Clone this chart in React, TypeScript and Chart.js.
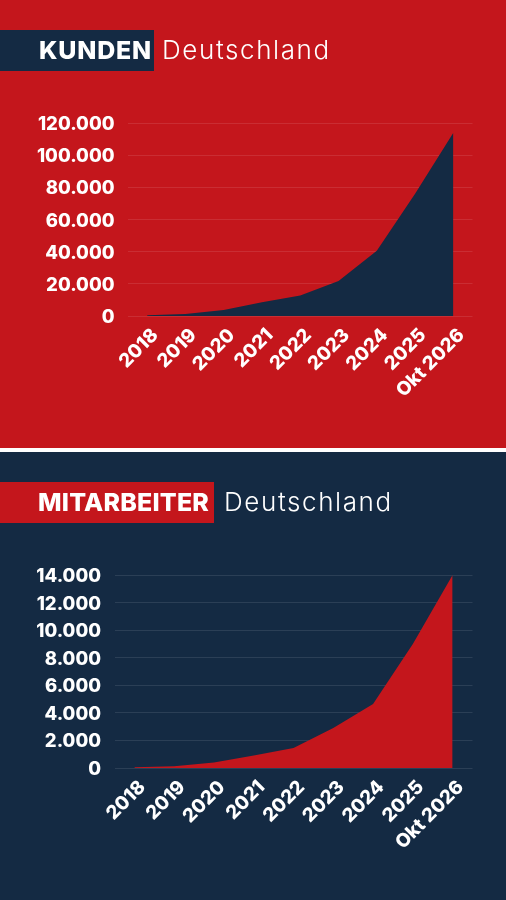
import { useEffect, useRef } from 'react';
import { Chart, registerables } from 'chart.js';

Chart.register(...registerables);

const RED = '#c4161c';
const NAVY = '#142a43';

const years = ['2018', '2019', '2020', '2021', '2022', '2023', '2024', '2025', 'Okt 2026'];
const kunden = [500, 1300, 3800, 8500, 12800, 21800, 40500, 76000, 114000];
const mitarbeiter = [60, 130, 400, 900, 1450, 2900, 4650, 9000, 14000];

const FONT = 'Inter, sans-serif';

// 120000 -> 120.000
const formatTick = (v: number | string) => String(v).replace(/\B(?=(\d{3})+$)/g, '.');

type PanelProps = {
  word: string;
  wordX: number;
  wordSpacing: number;
  boxWidth: number;
  subX: number;
  bg: string;
  accent: string;
  values: number[];
  max: number;
  step: number;
  axisWidth: number;
  grid: string;
};

function Panel({ word, wordX, wordSpacing, boxWidth, subX, bg, accent, values, max, step, axisWidth, grid }: PanelProps) {
  const chartRef = useRef<HTMLCanvasElement>(null);

  useEffect(() => {
    if (!chartRef.current) return;
    const chart = new Chart(chartRef.current, {
      type: 'line',
      data: {
        labels: years,
        datasets: [
          {
            data: values,
            backgroundColor: accent,
            borderWidth: 0,
            pointRadius: 0,
            fill: 'origin',
            tension: 0,
          },
        ],
      },
      options: {
        responsive: false,
        animation: false,
        layout: { padding: { top: 123, right: 33.5, left: 0, bottom: 0 } },
        plugins: { legend: { display: false }, tooltip: { enabled: false } },
        scales: {
          x: {
            offset: true,
            grid: { display: false },
            border: { display: false },
            afterFit: (s: any) => {
              s.height = 132;
            },
            ticks: {
              color: '#ffffff',
              font: { family: FONT, size: 19, weight: '800' },
              minRotation: 45,
              maxRotation: 45,
              autoSkip: false,
              padding: 0,
              labelOffset: 8,
            },
          },
          y: {
            min: 0,
            max,
            afterFit: (s: any) => {
              s.width = axisWidth;
            },
            grid: { color: grid, drawTicks: false },
            border: { display: false },
            ticks: {
              stepSize: step,
              color: '#ffffff',
              padding: 13.5,
              labelOffset: 1.5,
              font: { family: FONT, size: 18.5, weight: '800' },
              callback: (v) => formatTick(v),
            },
          },
        },
      },
    });
    return () => chart.destroy();
  }, []);

  return (
    <div style={{ position: 'relative', width: 506, height: 448, background: bg, overflow: 'hidden' }}>
      <canvas ref={chartRef} width={506} height={448} style={{ position: 'absolute', left: 0, top: 0 }} />
      <div style={{ position: 'absolute', left: 0, top: 30, width: boxWidth, height: 41, background: accent }} />
      <div
        style={{
          position: 'absolute',
          left: wordX,
          top: 30,
          lineHeight: '41px',
          fontFamily: FONT,
          fontWeight: 800,
          fontSize: 25,
          letterSpacing: wordSpacing,
          color: '#fff',
          whiteSpace: 'nowrap',
        }}
      >
        {word}
      </div>
      <div
        style={{
          position: 'absolute',
          left: subX,
          top: 29,
          lineHeight: '41px',
          fontFamily: FONT,
          fontWeight: 300,
          fontSize: 26,
          letterSpacing: 1.6,
          color: '#fff',
          whiteSpace: 'nowrap',
        }}
      >
        Deutschland
      </div>
    </div>
  );
}

export default function App() {
  return (
    <div style={{ position: 'absolute', left: 0, top: 0, width: 506, height: 900, background: '#fff' }}>
      <Panel
        word="KUNDEN"
        wordX={39}
        wordSpacing={0.8}
        boxWidth={154}
        subX={162}
        bg={RED}
        accent={NAVY}
        values={kunden}
        max={120000}
        step={20000}
        axisWidth={128}
        grid="rgba(255,255,255,0.1)"
      />
      <div style={{ height: 4 }} />
      <Panel
        word="MITARBEITER"
        wordX={38}
        wordSpacing={0.2}
        boxWidth={214}
        subX={224}
        bg={NAVY}
        accent={RED}
        values={mitarbeiter}
        max={14000}
        step={2000}
        axisWidth={114.5}
        grid="rgba(255,255,255,0.1)"
      />
    </div>
  );
}
